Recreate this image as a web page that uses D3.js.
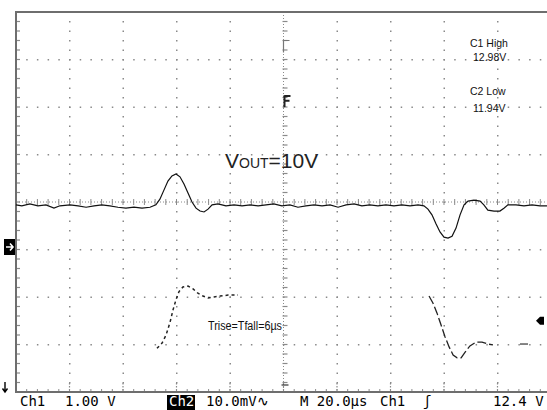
<!DOCTYPE html>
<html>
<head>
<meta charset="utf-8">
<style>
  body { margin: 0; background: #fff; }
  svg { display: block; }
</style>
</head>
<body>
<svg width="547" height="410"></svg>
<script src="https://d3js.org/d3.v7.min.js"></script>
<script>
    // time in µs (20 µs/div, 10 div), values in divisions from centre
    const upperTime = [0, 2.2, 5.2, 8.2, 11.2, 14.2, 16.4, 20.2, 23.2, 26.2, 29.2, 32.1, 35.1, 38.1, 41.1, 44.1, 47.1, 50.1,
        52.3, 53.8, 55.3, 56.8, 58.3, 59.8, 61.3, 62.8, 64.3, 65.8, 67.3, 68.8, 70.3, 71.8, 73.3,
        75.5, 78.5, 81.5, 84.5, 87.5, 90.5, 93.5, 96.4, 99.4, 102.4, 105.4, 108.4, 111.4, 114.4, 117.4, 120.4,
        123.4, 126.4, 129.3, 132.3, 135.3, 138.3, 141.3, 144.3, 147.3, 150.3, 152.5,
        154.0, 155.5, 157.0, 158.5, 160.0, 161.5, 163.0, 164.5, 166.0, 167.5, 169.0, 171.2, 173.5,
        174.9, 176.4, 178.7, 180.9, 182.4, 183.9, 186.9, 189.9, 192.9, 195.9, 198.5];
    const upperDiv = [-0.06, -0.08, -0.04, -0.08, -0.06, -0.13, -0.08, -0.06, -0.08, -0.11, -0.08, -0.06, -0.08, -0.11, -0.13, -0.11, -0.13, -0.11,
        -0.06, 0.06, 0.25, 0.44, 0.55, 0.59, 0.53, 0.38, 0.19, 0, -0.13, -0.19, -0.21, -0.15, -0.06,
        -0.04, -0.08, -0.06, -0.08, -0.06, -0.08, -0.06, -0.04, -0.08, -0.06, -0.11, -0.08, -0.06, -0.08, -0.06, -0.11,
        -0.06, -0.04, -0.08, -0.06, -0.08, -0.06, -0.08, -0.06, -0.08, -0.06, -0.08,
        -0.15, -0.27, -0.46, -0.63, -0.74, -0.76, -0.72, -0.55, -0.27, -0.06, 0.02, 0.04, 0.02,
        -0.06, -0.17, -0.19, -0.19, -0.13, -0.06, -0.06, -0.08, -0.06, -0.08, -0.08];

    const riseTime = [52.7, 54.6, 56.1, 57.6, 58.7, 59.8, 60.9, 62.4, 64.3, 66.2, 68.0, 69.9, 71.8, 74.0, 76.3, 79.3, 83.0];
    const riseDiv = [-3.08, -2.97, -2.80, -2.53, -2.27, -2.06, -1.89, -1.79, -1.77, -1.83, -1.92, -1.98, -2.02, -2.00, -1.98, -1.96, -1.96];

    const fallTime = [154.4, 155.9, 157.4, 158.9, 160.4, 161.9, 163.4, 164.9, 166.4, 167.9, 169.7, 172.0, 174.2, 176.4, 178.3];
    const fallDiv = [-1.98, -2.13, -2.34, -2.59, -2.84, -3.05, -3.22, -3.28, -3.28, -3.16, -3.03, -2.95, -2.95, -2.99, -3.01];

    const tailTime = [188.4, 191.4];
    const tailDiv = [-2.99, -2.99];

    const statusLabels = ["Ch1", "1.00 V", "Ch2", "10.0mV\u223F", "M 20.0\u00B5s", "Ch1", "\u0283", "12.4 V"];
    const statusX = [20, 65, 169, 206, 300, 380, 423, 493];
    const measLabels = ["C1 High", "12.98V", "C2 Low", "11.94V"];

    const svg = d3.select("svg");
    const width = +svg.attr("width");
    const plotLeft = 16, plotTop = 12, plotBottom = 392;
    const divW = 53.5;

    const x = d3.scaleLinear().domain([0, 200]).range([plotLeft, plotLeft + 10 * divW]);
    const y = d3.scaleLinear().domain([-4, 4]).range([plotBottom, plotTop]);

    const gridColor = "#8a8a8a";
    const g = svg.append("g");

    // dotted graticule
    const minorT = d3.range(0, 200.01, 4);
    const minorV = d3.range(-4, 4.01, 0.2);
    for (let d = 1; d < 10; d++) {
        if (d === 5) continue;
        g.selectAll(null).data(minorV).enter().append("rect")
            .attr("x", x(d * 20) - 0.5).attr("y", v => y(v) - 0.5)
            .attr("width", 1.5).attr("height", 1.5).attr("fill", gridColor);
    }
    for (let v = -3; v <= 3; v++) {
        if (v === 0) continue;
        g.selectAll(null).data(minorT).enter().append("rect")
            .attr("x", t => x(t) - 0.5).attr("y", y(v) - 0.5)
            .attr("width", 1.5).attr("height", 1.5).attr("fill", gridColor);
    }

    // centre axes with ticks
    g.selectAll(null).data(minorV).enter().append("line")
        .attr("x1", x(100) - 1).attr("x2", x(100) + 4)
        .attr("y1", v => y(v)).attr("y2", v => y(v))
        .attr("stroke", gridColor).attr("stroke-width", 1.2);
    g.append("line").attr("x1", x(100)).attr("x2", x(100)).attr("y1", plotTop).attr("y2", plotBottom)
        .attr("stroke", gridColor).attr("stroke-width", 1).attr("stroke-dasharray", "1 2");
    g.selectAll(null).data(minorT).enter().append("line")
        .attr("x1", t => x(t)).attr("x2", t => x(t))
        .attr("y1", y(0) - 3).attr("y2", y(0) + 3)
        .attr("stroke", gridColor).attr("stroke-width", 1);
    g.append("line").attr("x1", plotLeft).attr("x2", width).attr("y1", y(0)).attr("y2", y(0))
        .attr("stroke", gridColor).attr("stroke-width", 1).attr("stroke-dasharray", "1 2");

    // border ticks
    g.selectAll(null).data(minorV).enter().append("line")
        .attr("x1", plotLeft).attr("x2", plotLeft + 4)
        .attr("y1", v => y(v)).attr("y2", v => y(v))
        .attr("stroke", gridColor).attr("stroke-width", 1.2);
    g.selectAll(null).data(minorT).enter().append("line")
        .attr("x1", t => x(t)).attr("x2", t => x(t))
        .attr("y1", plotBottom - 3).attr("y2", plotBottom)
        .attr("stroke", gridColor).attr("stroke-width", 1);
    g.selectAll(null).data(d3.range(20, 200, 20)).enter().append("line")
        .attr("x1", t => x(t)).attr("x2", t => x(t))
        .attr("y1", plotBottom - 9).attr("y2", plotBottom)
        .attr("stroke", gridColor).attr("stroke-width", 1.2).attr("stroke-dasharray", "1.5 1.5");

    // frame
    g.append("path")
        .attr("d", `M${width},${plotTop}H${plotLeft}V${plotBottom}H${width}`)
        .attr("fill", "none").attr("stroke", "#6e6e6e").attr("stroke-width", 2);

    // traces
    const line = d3.line().x(d => x(d[0])).y(d => y(d[1]));
    const zip = (a, b) => a.map((t, i) => [t, b[i]]);

    svg.append("path").datum(zip(upperTime, upperDiv))
        .attr("d", line).attr("fill", "none").attr("stroke", "#111").attr("stroke-width", 1.2);
    svg.append("path").datum(zip(riseTime, riseDiv))
        .attr("d", line).attr("fill", "none").attr("stroke", "#222").attr("stroke-width", 1.5)
        .attr("stroke-dasharray", "3 3");
    svg.append("path").datum(zip(fallTime, fallDiv))
        .attr("d", line).attr("fill", "none").attr("stroke", "#222").attr("stroke-width", 1.3)
        .attr("stroke-dasharray", "9 3");
    svg.append("path").datum(zip(tailTime, tailDiv))
        .attr("d", line).attr("fill", "none").attr("stroke", "#444").attr("stroke-width", 1.3);

    // markers
    svg.append("path").attr("d", `M${x(100)},${y(3.4)}V${y(3.15)}M${x(100)},${y(3.4)}H${x(100) + 6}`)
        .attr("stroke", "#777").attr("stroke-width", 1.2).attr("fill", "none");
    svg.append("path").attr("d", `M${x(100) + 1},${y(2.25)}V${y(2.0)}M${x(100) + 1},${y(2.23)}H${x(100) + 7}M${x(100) + 1},${y(2.13)}H${x(100) + 6}`)
        .attr("stroke", "#222").attr("stroke-width", 2).attr("fill", "none");
    svg.append("rect").attr("x", 4).attr("y", 239).attr("width", 11).attr("height", 16).attr("fill", "#000");
    svg.append("path").attr("d", "M6,247H13M10,243.5L13,247L10,250.5")
        .attr("stroke", "#fff").attr("stroke-width", 1.6).attr("fill", "none");
    svg.append("path").attr("d", "M5,382V392M2.5,388.5L5,392L7.5,388.5")
        .attr("stroke", "#000").attr("stroke-width", 1.4).attr("fill", "none");
    svg.append("path").attr("d", `M536,${y(-2.5)}L540,${y(-2.5) - 4}H544V${y(-2.5) + 4}H540Z`)
        .attr("fill", "#000");
    svg.append("line").attr("x1", x(100) - 2).attr("x2", x(100) + 5).attr("y1", 385).attr("y2", 385)
        .attr("stroke", "#333").attr("stroke-width", 1.2);

    // annotations
    const ann = svg.append("text").attr("x", 225).attr("y", 168)
        .attr("font-family", "Liberation Sans, Arial, sans-serif").attr("fill", "#222");
    ann.append("tspan").attr("font-size", 21).text("V");
    ann.append("tspan").attr("font-size", 14).text("OUT");
    ann.append("tspan").attr("font-size", 21).text("=10V");

    svg.append("text").attr("x", 208).attr("y", 330)
        .attr("font-family", "Liberation Sans, Arial, sans-serif").attr("font-size", 12)
        .attr("textLength", 74).attr("lengthAdjust", "spacingAndGlyphs")
        .attr("fill", "#111").text("Trise=Tfall=6\u00B5s");

    const measY = [47, 61, 95, 112];
    const measX = [470, 473, 470, 473];
    svg.selectAll(null).data(measLabels).enter().append("text")
        .attr("x", (d, i) => measX[i]).attr("y", (d, i) => measY[i])
        .attr("font-family", "Liberation Sans, Arial, sans-serif").attr("font-size", 10.5)
        .attr("fill", "#111").text(d => d);

    // status bar
    svg.append("rect").attr("x", 167).attr("y", 395).attr("width", 28).attr("height", 15).attr("fill", "#000");
    svg.selectAll(null).data(statusLabels).enter().append("text")
        .attr("x", (d, i) => statusX[i]).attr("y", 406)
        .attr("font-family", "DejaVu Sans Mono, monospace").attr("font-size", 14)
        .attr("fill", (d, i) => i === 2 ? "#fff" : "#000")
        .text(d => d);
</script>
</body>
</html>
